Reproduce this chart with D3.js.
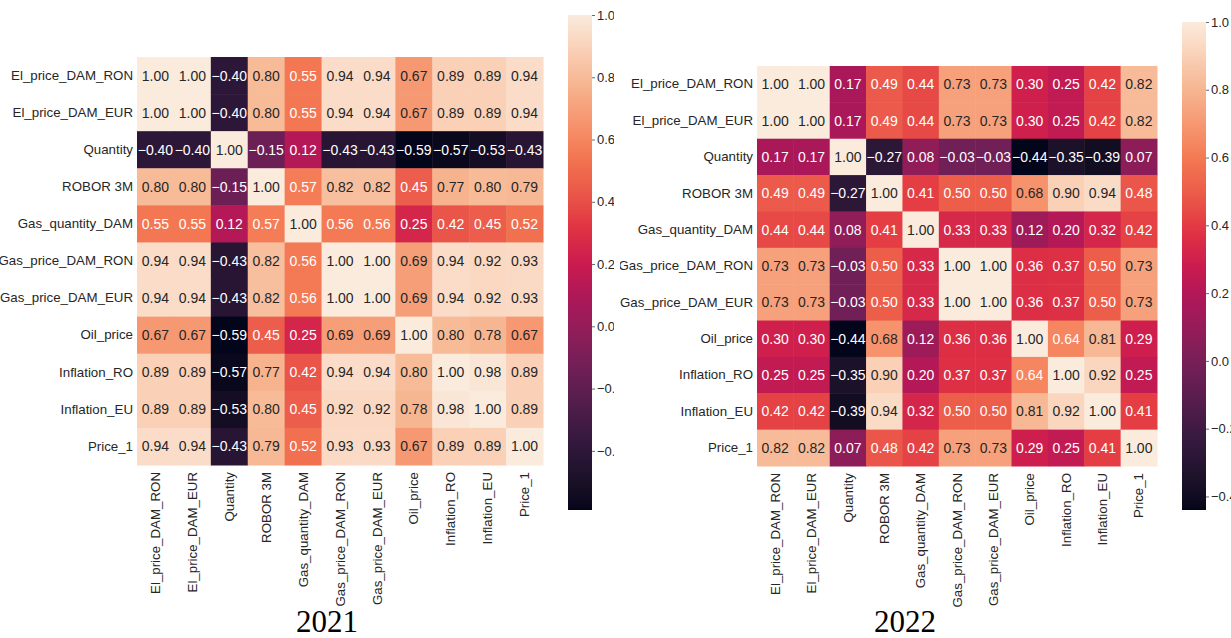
<!DOCTYPE html>
<html>
<head>
<meta charset="utf-8">
<script src="https://cdn.jsdelivr.net/npm/d3@7"></script>
<style>
  html, body { margin: 0; padding: 0; background: #fff; }
  svg { display: block; }
  text { font-family: "Liberation Sans", Arial, sans-serif; }
</style>
</head>
<body>
<svg id="chart" width="1231" height="638"></svg>
<script>
// Variable names shared by both correlation matrices
const variables = [
  "El_price_DAM_RON", "El_price_DAM_EUR", "Quantity", "ROBOR 3M",
  "Gas_quantity_DAM", "Gas_price_DAM_RON", "Gas_price_DAM_EUR",
  "Oil_price", "Inflation_RO", "Inflation_EU", "Price_1"
];

// Pearson correlations, 2021
const corr2021 = [
  [1.00, 1.00, -0.40, 0.80, 0.55, 0.94, 0.94, 0.67, 0.89, 0.89, 0.94],
  [1.00, 1.00, -0.40, 0.80, 0.55, 0.94, 0.94, 0.67, 0.89, 0.89, 0.94],
  [-0.40, -0.40, 1.00, -0.15, 0.12, -0.43, -0.43, -0.59, -0.57, -0.53, -0.43],
  [0.80, 0.80, -0.15, 1.00, 0.57, 0.82, 0.82, 0.45, 0.77, 0.80, 0.79],
  [0.55, 0.55, 0.12, 0.57, 1.00, 0.56, 0.56, 0.25, 0.42, 0.45, 0.52],
  [0.94, 0.94, -0.43, 0.82, 0.56, 1.00, 1.00, 0.69, 0.94, 0.92, 0.93],
  [0.94, 0.94, -0.43, 0.82, 0.56, 1.00, 1.00, 0.69, 0.94, 0.92, 0.93],
  [0.67, 0.67, -0.59, 0.45, 0.25, 0.69, 0.69, 1.00, 0.80, 0.78, 0.67],
  [0.89, 0.89, -0.57, 0.77, 0.42, 0.94, 0.94, 0.80, 1.00, 0.98, 0.89],
  [0.89, 0.89, -0.53, 0.80, 0.45, 0.92, 0.92, 0.78, 0.98, 1.00, 0.89],
  [0.94, 0.94, -0.43, 0.79, 0.52, 0.93, 0.93, 0.67, 0.89, 0.89, 1.00]
];

// Pearson correlations, 2022
const corr2022 = [
  [1.00, 1.00, 0.17, 0.49, 0.44, 0.73, 0.73, 0.30, 0.25, 0.42, 0.82],
  [1.00, 1.00, 0.17, 0.49, 0.44, 0.73, 0.73, 0.30, 0.25, 0.42, 0.82],
  [0.17, 0.17, 1.00, -0.27, 0.08, -0.03, -0.03, -0.44, -0.35, -0.39, 0.07],
  [0.49, 0.49, -0.27, 1.00, 0.41, 0.50, 0.50, 0.68, 0.90, 0.94, 0.48],
  [0.44, 0.44, 0.08, 0.41, 1.00, 0.33, 0.33, 0.12, 0.20, 0.32, 0.42],
  [0.73, 0.73, -0.03, 0.50, 0.33, 1.00, 1.00, 0.36, 0.37, 0.50, 0.73],
  [0.73, 0.73, -0.03, 0.50, 0.33, 1.00, 1.00, 0.36, 0.37, 0.50, 0.73],
  [0.30, 0.30, -0.44, 0.68, 0.12, 0.36, 0.36, 1.00, 0.64, 0.81, 0.29],
  [0.25, 0.25, -0.35, 0.90, 0.20, 0.37, 0.37, 0.64, 1.00, 0.92, 0.25],
  [0.42, 0.42, -0.39, 0.94, 0.32, 0.50, 0.50, 0.81, 0.92, 1.00, 0.41],
  [0.82, 0.82, 0.07, 0.48, 0.42, 0.73, 0.73, 0.29, 0.25, 0.41, 1.00]
];

const colorbarTicks = [1.0, 0.8, 0.6, 0.4, 0.2, 0.0, -0.2, -0.4];
const panelTitles = ["2021", "2022"];

// "rocket" sequential palette, sampled stops (interpolated in Lab)
const rocketStops = [0, 1/7, 2/7, 3/7, 0.5, 4/7, 5/7, 6/7, 1];
const rocketColors = ["#03051a", "#35193e", "#701f57", "#ad1759", "#cb1b4f",
                      "#e13342", "#f37651", "#f6b48f", "#faebdd"];
const rocket = d3.scaleLinear().domain(rocketStops).range(rocketColors)
  .interpolate(d3.interpolateLab).clamp(true);

function luminance(c) {
  const rgb = d3.rgb(c);
  const lin = v => { v /= 255; return v <= 0.03928 ? v / 12.92 : Math.pow((v + 0.055) / 1.055, 2.4); };
  return 0.2126 * lin(rgb.r) + 0.7152 * lin(rgb.g) + 0.0722 * lin(rgb.b);
}

const svg = d3.select("#chart");
const defs = svg.append("defs");
const fmtMinus = d => d3.format(".1f")(d).replace("-", "\u2212");
const labelSize = 13.3;

function drawPanel(cfg) {
  const { id, matrix, clip, grid, bar, title } = cfg;
  defs.append("clipPath").attr("id", "clip-" + id)
    .append("rect").attr("x", clip[0]).attr("y", 0)
    .attr("width", clip[1] - clip[0]).attr("height", 638);
  const g = svg.append("g").attr("clip-path", `url(#clip-${id})`);

  const vmin = d3.min(matrix.flat());
  const vmax = d3.max(matrix.flat());
  const norm = d3.scaleLinear().domain([vmin, vmax]).range([0, 1]);
  const color = v => rocket(norm(v));

  const x = d3.scaleBand().domain(variables).range([grid.x0, grid.x1]);
  const y = d3.scaleBand().domain(variables).range([grid.y0, grid.y1]);

  const cells = [];
  matrix.forEach((row, i) => row.forEach((v, j) => cells.push({ r: variables[i], c: variables[j], v })));

  g.selectAll("rect.cell").data(cells).join("rect")
    .attr("class", "cell")
    .attr("x", d => x(d.c)).attr("y", d => y(d.r))
    .attr("width", x.bandwidth() + 0.5).attr("height", y.bandwidth() + 0.5)
    .attr("fill", d => color(d.v));

  g.selectAll("text.annot").data(cells).join("text")
    .attr("class", "annot")
    .attr("x", d => x(d.c) + x.bandwidth() / 2)
    .attr("y", d => y(d.r) + y.bandwidth() / 2)
    .attr("dy", "0.36em")
    .attr("text-anchor", "middle")
    .attr("font-size", 14)
    .attr("fill", d => luminance(color(d.v)) > 0.408 ? "#262626" : "#ffffff")
    .text(d => d3.format(".2f")(d.v));

  // Row labels
  const yAxis = g.append("g").attr("transform", `translate(${grid.x0},0)`)
    .call(d3.axisLeft(y).tickSize(0).tickPadding(4));
  yAxis.select(".domain").remove();
  yAxis.selectAll("text").attr("font-size", labelSize).attr("fill", "#262626")
    .style("font-family", "'Liberation Sans', Arial, sans-serif");

  // Column labels, rotated
  const xAxis = g.append("g").attr("transform", `translate(0,${grid.y1})`)
    .call(d3.axisBottom(x).tickSize(0).tickPadding(0));
  xAxis.select(".domain").remove();
  xAxis.selectAll("text")
    .attr("font-size", labelSize).attr("fill", "#262626")
    .style("font-family", "'Liberation Sans', Arial, sans-serif")
    .attr("transform", "rotate(-90)")
    .attr("text-anchor", "end")
    .attr("x", -7).attr("y", 0).attr("dy", "0.35em");

  // Colorbar
  const cb = d3.scaleLinear().domain([vmin, vmax]).range([bar.y1, bar.y0]);
  const gradId = "grad-" + id;
  const grad = defs.append("linearGradient").attr("id", gradId)
    .attr("x1", 0).attr("y1", 1).attr("x2", 0).attr("y2", 0);
  d3.range(0, 1.0001, 0.02).forEach(t => {
    grad.append("stop").attr("offset", t).attr("stop-color", rocket(t));
  });
  g.append("rect").attr("x", bar.x).attr("y", bar.y0)
    .attr("width", bar.w).attr("height", bar.y1 - bar.y0)
    .attr("fill", `url(#${gradId})`);
  const cAxis = g.append("g").attr("transform", `translate(${bar.x + bar.w},0)`)
    .call(d3.axisRight(cb).tickValues(colorbarTicks).tickSize(3).tickPadding(2).tickFormat(fmtMinus));
  cAxis.select(".domain").remove();
  cAxis.selectAll("line").attr("stroke", "#444").attr("stroke-width", 0.8);
  cAxis.selectAll("text").attr("font-size", 13).attr("fill", "#262626")
    .style("font-family", "'Liberation Sans', Arial, sans-serif");

  // Year caption
  svg.append("text")
    .attr("x", title.x).attr("y", title.y)
    .attr("text-anchor", "middle")
    .style("font-family", "'Liberation Serif', 'Times New Roman', serif")
    .attr("font-size", 31).attr("fill", "#000")
    .text(title.text);
}

drawPanel({
  id: "y2021", matrix: corr2021, clip: [0, 614],
  grid: { x0: 137, x1: 543, y0: 57, y1: 465 },
  bar: { x: 568, w: 24, y0: 15, y1: 510 },
  title: { x: 327, y: 632, text: panelTitles[0] }
});

drawPanel({
  id: "y2022", matrix: corr2022, clip: [620, 1231],
  grid: { x0: 757, x1: 1157, y0: 66, y1: 466 },
  bar: { x: 1182, w: 24, y0: 22, y1: 510 },
  title: { x: 905, y: 632, text: panelTitles[1] }
});
</script>
</body>
</html>
